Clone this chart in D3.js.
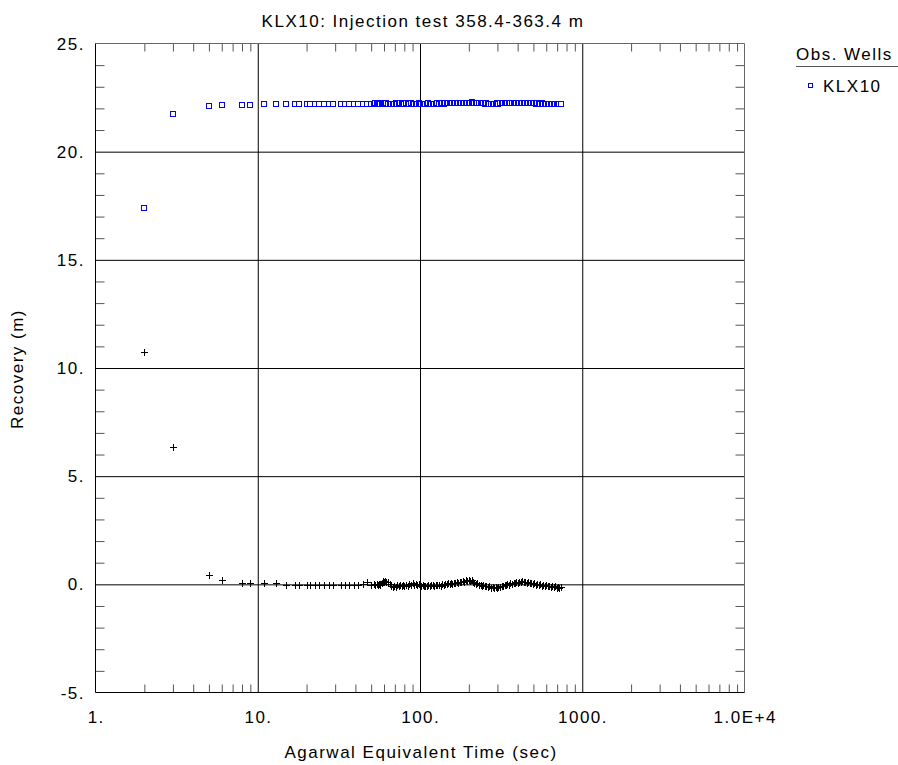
<!DOCTYPE html>
<html><head><meta charset="utf-8">
<script src="https://cdn.jsdelivr.net/npm/d3@7"></script>
<style>
html,body{margin:0;padding:0;background:#fff;}
svg text{font-family:Arial,"Liberation Sans",sans-serif;fill:#000;letter-spacing:1.5px;}
</style></head>
<body>
<svg id="chart" width="898" height="765"></svg>
<script>
const chartTitle = "KLX10: Injection test 358.4-363.4 m";
const xTitle = "Agarwal Equivalent Time (sec)";
const yTitle = "Recovery (m)";
const legendTitle = "Obs. Wells";
const seriesName = "KLX10";

const xTickValues = [1, 10, 100, 1000, 10000];
const xTickLabels = ["1.", "10.", "100.", "1000.", "1.0E+4"];
const yTickValues = [25, 20, 15, 10, 5, 0, -5];
const yTickLabels = ["25.", "20.", "15.", "10.", "5.", "0.", "-5."];

const timeSec = [2, 3, 5, 6, 8, 9, 11, 13, 15, 17, 18, 20, 21, 22.5, 24, 25.6, 27.5, 29.3, 32.6, 34.7, 36.7, 39.2, 41.6, 44.4, 47, 50,
  52, 53, 54, 55, 56, 57, 58, 59, 60, 61,
  62, 63.5, 65, 66.5, 68, 69.5, 71, 72.5, 74, 75.5,
  77, 78.5, 80, 82, 84, 86, 88, 90, 92, 94,
  96, 98, 100, 102, 104, 106, 108, 110, 112.5, 115,
  117.5, 120, 122.5, 125, 128, 131, 134, 137, 140, 143,
  146, 149, 152, 155, 158, 161, 164, 168, 172, 176,
  180, 184, 188, 192, 196, 200, 204, 208, 212, 216,
  221, 226, 231, 236, 241, 246, 251, 256, 262, 268,
  274, 280, 286, 292, 298, 304, 311, 318, 325, 332,
  339, 346, 353, 361, 369, 377, 385, 393, 401, 410,
  419, 428, 437, 446, 456, 466, 476, 486, 496, 507,
  518, 529, 540, 552, 564, 576, 588, 600, 613, 626,
  639, 652, 666, 680, 694, 708, 722, 735];

const recovery = [17.4, 21.72, 22.13, 22.17, 22.17, 22.17, 22.2, 22.2, 22.2, 22.2, 22.2, 22.2, 22.2, 22.2, 22.21, 22.21, 22.21, 22.21, 22.21, 22.21, 22.21, 22.21, 22.21, 22.22, 22.22, 22.22,
  22.22, 22.23, 22.22, 22.21, 22.23, 22.22, 22.23, 22.24, 22.23, 22.22,
  22.23, 22.22, 22.21, 22.22, 22.21, 22.22, 22.23, 22.22, 22.22, 22.23,
  22.22, 22.21, 22.22, 22.23, 22.22, 22.22, 22.23, 22.22, 22.21, 22.22,
  22.22, 22.23, 22.22, 22.21, 22.22, 22.21, 22.22, 22.22, 22.23, 22.22,
  22.22, 22.21, 22.22, 22.22, 22.23, 22.22, 22.22, 22.23, 22.22, 22.23,
  22.23, 22.24, 22.23, 22.24, 22.24, 22.25, 22.24, 22.25, 22.25, 22.26,
  22.25, 22.26, 22.26, 22.27, 22.26, 22.27, 22.27, 22.28, 22.26, 22.26,
  22.25, 22.25, 22.24, 22.24, 22.23, 22.23, 22.22, 22.23, 22.22, 22.22,
  22.22, 22.21, 22.22, 22.22, 22.23, 22.22, 22.23, 22.23, 22.24, 22.23,
  22.24, 22.24, 22.25, 22.24, 22.25, 22.25, 22.26, 22.25, 22.25, 22.26,
  22.25, 22.25, 22.24, 22.25, 22.24, 22.24, 22.23, 22.24, 22.23, 22.23,
  22.22, 22.23, 22.22, 22.22, 22.23, 22.22, 22.22, 22.21, 22.22, 22.22,
  22.21, 22.22, 22.22, 22.21, 22.22, 22.21, 22.22, 22.22];

const derivative = [10.75, 6.35, 0.42, 0.22, 0.07, 0.07, 0.06, 0.04, -0.02, -0.02, -0.02, -0.02, -0.03, -0.02, -0.03, -0.02, -0.03, -0.02, -0.03, -0.02, -0.02, -0.03, -0.02, 0.02, 0.1, -0.05,
  0.02, -0.04, 0.01, -0.05, 0.03, -0.02, 0.08, 0.14, 0.1, 0.15,
  0.11, 0.13, 0.02, -0.08, -0.12, -0.07, -0.13, -0.05, -0.09, -0.03,
  -0.07, -0.04, -0.08, -0.02, -0.06, 0.02, -0.03, 0.04, -0.02, 0.03,
  -0.04, 0.01, -0.05, -0.09, -0.05, -0.1, -0.06, -0.09, -0.04, -0.08,
  -0.05, -0.02, -0.06, -0.01, -0.05, -0.02, -0.06, 0.0, -0.03, 0.03,
  0.0, 0.06, 0.02, 0.07, 0.03, 0.08, 0.05, 0.1, 0.07, 0.13,
  0.1, 0.16, 0.12, 0.18, 0.14, 0.2, 0.15, 0.19, 0.13, 0.08,
  0.02, 0.05, -0.04, -0.01, -0.08, -0.04, -0.1, -0.06, -0.12, -0.08,
  -0.16, -0.12, -0.18, -0.13, -0.17, -0.11, -0.14, -0.07, -0.09, -0.02,
  -0.05, 0.02, -0.01, 0.05, 0.02, 0.08, 0.05, 0.12, 0.08, 0.13,
  0.09, 0.14, 0.1, 0.12, 0.07, 0.11, 0.05, 0.08, 0.02, 0.05,
  -0.01, 0.03, -0.03, 0.0, -0.06, -0.03, -0.08, -0.05, -0.1, -0.07,
  -0.11, -0.08, -0.13, -0.1, -0.15, -0.11, -0.16, -0.13];

const m = {left: 95.5, top: 43.5, right: 744.5, bottom: 692.5};
const svg = d3.select("#chart");

const x = d3.scaleLog().domain([1, 10000]).range([m.left, m.right]);
const y = d3.scaleLinear().domain([-5, 25]).range([m.bottom, m.top]);

const g = svg.append("g");
const tickColor = "#555";

// minor ticks y (every 1 unit), left and right
const yMinor = d3.range(-5, 26, 1).filter(v => v % 5 !== 0);
g.append("g").call(d3.axisLeft(y).tickValues(yMinor).tickSize(-9).tickFormat(""))
  .attr("transform", `translate(${m.left},0)`)
  .call(s => s.select(".domain").remove())
  .call(s => s.selectAll("line").attr("stroke", tickColor));
g.append("g").call(d3.axisRight(y).tickValues(yMinor).tickSize(-9).tickFormat(""))
  .attr("transform", `translate(${m.right},0)`)
  .call(s => s.select(".domain").remove())
  .call(s => s.selectAll("line").attr("stroke", tickColor));

// minor ticks x, top and bottom
const xMinor = [];
[1, 10, 100, 1000].forEach(d => { for (let k = 2; k <= 9; k++) xMinor.push(d * k); });
g.append("g").call(d3.axisBottom(x).tickValues(xMinor).tickSize(-8).tickFormat(""))
  .attr("transform", `translate(0,${m.bottom})`)
  .call(s => s.select(".domain").remove())
  .call(s => s.selectAll("line").attr("stroke", tickColor));
g.append("g").call(d3.axisTop(x).tickValues(xMinor).tickSize(-8).tickFormat(""))
  .attr("transform", `translate(0,${m.top})`)
  .call(s => s.select(".domain").remove())
  .call(s => s.selectAll("line").attr("stroke", tickColor));

// major grid lines
g.append("g").call(d3.axisBottom(x).tickValues([10, 100, 1000]).tickSize(-(m.bottom - m.top)).tickFormat(""))
  .attr("transform", `translate(0,${m.bottom})`)
  .call(s => s.select(".domain").remove())
  .call(s => s.selectAll("line").attr("stroke", "#000"));
g.append("g").call(d3.axisLeft(y).tickValues([20, 15, 10, 5, 0]).tickSize(-(m.right - m.left)).tickFormat(""))
  .attr("transform", `translate(${m.left},0)`)
  .call(s => s.select(".domain").remove())
  .call(s => s.selectAll("line").attr("stroke", "#000"));

// frame
g.append("line").attr("x1", m.left).attr("x2", m.right).attr("y1", m.top).attr("y2", m.top).attr("stroke", "#666");
g.append("line").attr("x1", m.right).attr("x2", m.right).attr("y1", m.top).attr("y2", m.bottom).attr("stroke", "#666");
g.append("line").attr("x1", m.left).attr("x2", m.right).attr("y1", m.bottom).attr("y2", m.bottom).attr("stroke", "#000");
g.append("line").attr("x1", m.left).attr("x2", m.left).attr("y1", m.top).attr("y2", m.bottom).attr("stroke", "#000");

// tick labels
const fs = 17;
g.selectAll(".xl").data(xTickValues).enter().append("text")
  .attr("x", d => x(d) + 0.75).attr("y", 723).attr("text-anchor", "middle")
  .attr("font-size", fs).text((d, i) => xTickLabels[i]);
g.selectAll(".yl").data(yTickValues).enter().append("text")
  .attr("x", 85).attr("y", d => y(d)).attr("dy", "0.36em").attr("text-anchor", "end")
  .attr("font-size", fs).text((d, i) => yTickLabels[i]);

// titles
svg.append("text").attr("x", 423).attr("y", 27).attr("text-anchor", "middle").attr("font-size", fs).text(chartTitle);
svg.append("text").attr("x", 421).attr("y", 758).attr("text-anchor", "middle").attr("font-size", fs).text(xTitle);
svg.append("text").attr("transform", "translate(23,369) rotate(-90)").attr("text-anchor", "middle").attr("font-size", fs).text(yTitle);

// data
const pts = timeSec.map((t, i) => ({t, r: recovery[i], d: derivative[i]}));
const plot = svg.append("g");
plot.selectAll(".pl").data(pts).enter().append("path")
  .attr("d", d => { const cx = Math.round(x(d.t)) + 0.5, cy = Math.round(y(d.d)) + 0.5;
    return `M${cx - 3.5},${cy}H${cx + 3.5}M${cx},${cy - 3.5}V${cy + 3.5}`; })
  .attr("stroke", "#000").attr("stroke-width", 1).attr("fill", "none");
plot.selectAll(".sq").data(pts).enter().append("rect")
  .attr("x", d => Math.round(x(d.t)) - 2.5).attr("y", d => Math.round(y(d.r)) - 2.5)
  .attr("width", 5).attr("height", 5)
  .attr("fill", "#fff").attr("stroke", "#0000ff").attr("stroke-width", 1);

// legend
const lg = svg.append("g");
lg.append("text").attr("x", 796).attr("y", 60).attr("font-size", fs).text(legendTitle);
lg.append("line").attr("x1", 796).attr("x2", 898).attr("y1", 66.5).attr("y2", 66.5).attr("stroke", "#555");
lg.append("rect").attr("x", 808.5).attr("y", 83.5).attr("width", 4).attr("height", 4).attr("fill", "#fff").attr("stroke", "#0000ff");
lg.append("text").attr("x", 823).attr("y", 91.5).attr("font-size", fs).text(seriesName);
</script>
</body></html>
